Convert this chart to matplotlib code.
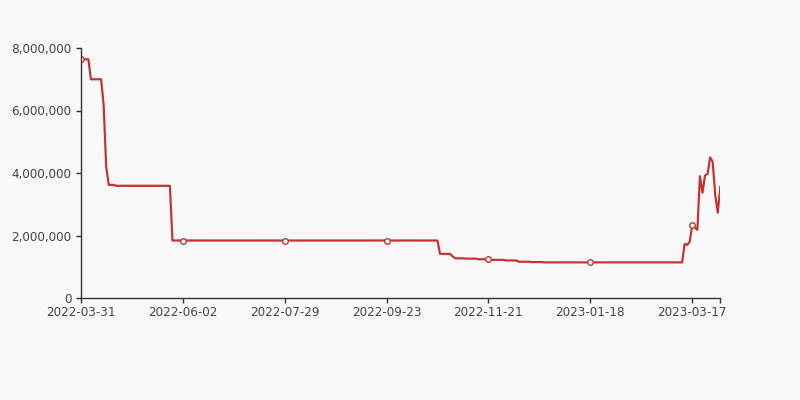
import matplotlib
matplotlib.use("Agg")
from matplotlib import pyplot as plt
from matplotlib.ticker import FuncFormatter
import numpy as np

# step runs: (value, number of trading days)
run_values = [7640000, 7000000, 6170000, 4200000, 3620000, 3590000, 1840000,
              1410000, 1330000, 1270000, 1260000, 1240000, 1220000, 1200000,
              1160000, 1150000, 1140000]
run_lengths = [4, 5, 1, 1, 3, 22, 105, 5, 1, 4, 5, 5, 6, 5, 5, 5, 55]

# last days, one value each
tail_values = [1730000, 1700000, 1800000, 2340000, 2260000, 2180000, 3900000,
               3370000, 3920000, 3970000, 4500000, 4360000, 3300000, 2730000,
               3560000]

tick_labels = ["2022-03-31", "2022-06-02", "2022-07-29", "2022-09-23",
               "2022-11-21", "2023-01-18", "2023-03-17"]
label_step = 40

values = np.concatenate([np.repeat(run_values, run_lengths), tail_values])
x = np.arange(len(values))

bg = "#f8f8f8"
red = "#c23531"

fig = plt.figure(figsize=(8, 4), dpi=100, facecolor=bg)
ax = fig.add_axes([0.1009, 0.255, 0.7995, 0.625], facecolor=bg)

ax.plot(x, values, color=red, lw=1.6, solid_joinstyle="round")
mk = x[::label_step]
ax.plot(mk, values[mk], linestyle="None", marker="o", markersize=4,
        markerfacecolor="white", markeredgecolor=red, markeredgewidth=1)

ax.set_xlim(0, len(values) - 1)
ax.set_ylim(0, 8000000)
ax.set_yticks(np.arange(0, 8000001, 2000000))
ax.yaxis.set_major_formatter(FuncFormatter(lambda v, p: f"{int(v):,}"))

xt = list(mk) + [len(values) - 1]
ax.set_xticks(xt)
ax.set_xticklabels(tick_labels + [""])

for s in ["top", "right"]:
    ax.spines[s].set_visible(False)
for s in ["left", "bottom"]:
    ax.spines[s].set_color("#333333")
    ax.spines[s].set_linewidth(1)

ax.tick_params(axis="both", length=3.6, width=1, color="#333333",
               labelcolor="#444444", labelsize=8.64)
ax.tick_params(axis="y", pad=2.9)
ax.tick_params(axis="x", pad=2.2)

fig.savefig("out.png", dpi=100, facecolor=bg)
